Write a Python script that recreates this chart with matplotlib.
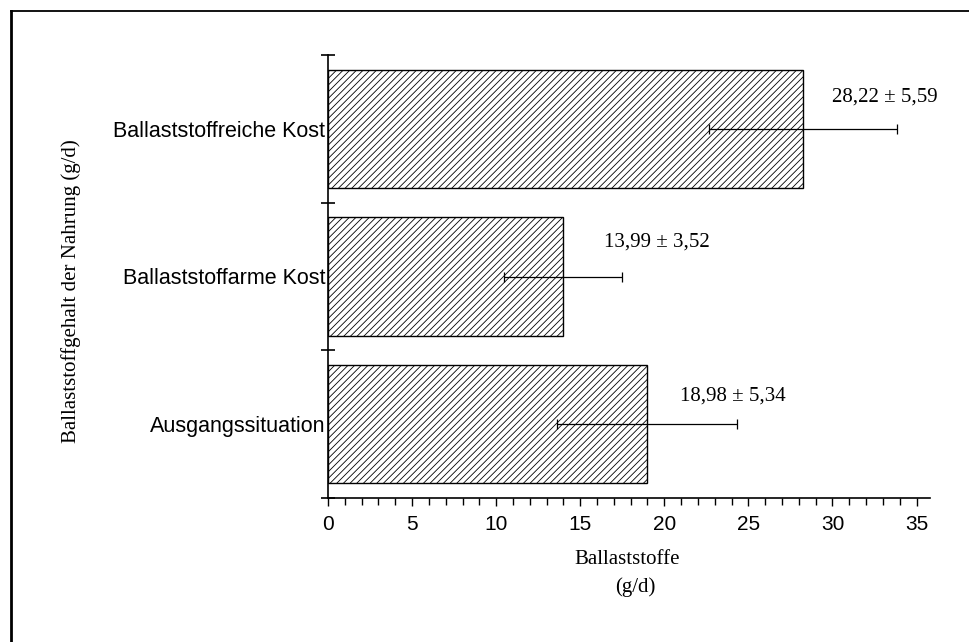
import matplotlib
matplotlib.use("Agg")
import matplotlib.pyplot as plt
from matplotlib.lines import Line2D
from matplotlib.ticker import MultipleLocator, FixedLocator, NullFormatter

# Fibre intake per diet phase (g/d): mean and standard deviation
categories = ["Ausgangssituation", "Ballaststoffarme Kost", "Ballaststoffreiche Kost"]
means = [18.98, 13.99, 28.22]
sds = [5.34, 3.52, 5.59]
value_labels = ["18,98 \u00b1 5,34", "13,99 \u00b1 3,52", "28,22 \u00b1 5,59"]
x_ticks = [0, 5, 10, 15, 20, 25, 30, 35]

# label offsets (points) relative to the end of each bar / error bar line
label_dx = [24, 29.5, 21]
label_dy = [17, 21.5, 20]

plt.rcParams["hatch.linewidth"] = 0.6
plt.rcParams["hatch.color"] = "black"

SANS = "Liberation Sans"
SERIF = "Liberation Serif"

fig = plt.figure(figsize=(9.69, 6.42), dpi=100)
fig.patch.set_facecolor("white")

# outer frame (top and left edges)
fig.add_artist(Line2D([10.5 / 969, 1.0], [1 - 11 / 642, 1 - 11 / 642],
                      transform=fig.transFigure, color="black", lw=1.3))
fig.add_artist(Line2D([11 / 969, 11 / 969], [0.0, 1 - 11 / 642],
                      transform=fig.transFigure, color="black", lw=2.0))

ax = fig.add_axes([328 / 969, 1 - 498 / 642, (930 - 328) / 969, (498 - 55) / 642])

y = list(range(len(categories)))
ax.barh(y, means, height=0.8, color="white", edgecolor="black",
        linewidth=1.0, hatch="/////", zorder=2)
ax.errorbar(means, y, xerr=sds, fmt="none", ecolor="black", elinewidth=0.9,
            capsize=3.6, capthick=0.9, zorder=3)

for yi, m, s, lab, dx, dy in zip(y, means, sds, value_labels, label_dx, label_dy):
    ax.annotate(lab, xy=(m, yi), xytext=(dx, dy), textcoords="offset points",
                ha="left", va="baseline", fontsize=15, family=SERIF)

ax.set_xlim(0, 35.8)
ax.set_ylim(-0.5, len(categories) - 0.5)

for side in ("top", "right"):
    ax.spines[side].set_visible(False)
for side in ("left", "bottom"):
    ax.spines[side].set_linewidth(1.2)

# x axis: majors every 5, minors every 1, ticks pointing down
ax.xaxis.set_major_locator(FixedLocator(x_ticks))
ax.xaxis.set_minor_locator(MultipleLocator(1))
ax.tick_params(axis="x", which="major", direction="out", length=6, width=1.0,
               pad=6, labelsize=15)
ax.tick_params(axis="x", which="minor", direction="out", length=5, width=1.0)
for t in ax.get_xticklabels():
    t.set_fontfamily(SANS)

# y axis: crossing ticks at category boundaries, labels at bar centres
ax.yaxis.set_major_locator(FixedLocator([i - 0.5 for i in range(len(categories) + 1)]))
ax.yaxis.set_major_formatter(NullFormatter())
ax.yaxis.set_minor_locator(FixedLocator(y))
ax.set_yticks(y, categories, minor=True)
ax.tick_params(axis="y", which="major", direction="inout", length=10, width=1.2)
ax.tick_params(axis="y", which="minor", length=0, pad=2, labelsize=15.5)
for t in ax.get_yticklabels(minor=True):
    t.set_fontfamily(SANS)

fig.text(627 / 969, 1 - 560 / 642, "Ballaststoffe", ha="center", va="center",
         fontsize=15, family=SERIF)
fig.text(635 / 969, 1 - 587 / 642, "(g/d)", ha="center", va="center",
         fontsize=15, family=SERIF)
fig.text(71 / 969, 1 - 291 / 642, "Ballaststoffgehalt der Nahrung (g/d)",
         rotation=90, ha="center", va="center", fontsize=15, family=SERIF)

fig.savefig("out.png", dpi=100, facecolor="white")
